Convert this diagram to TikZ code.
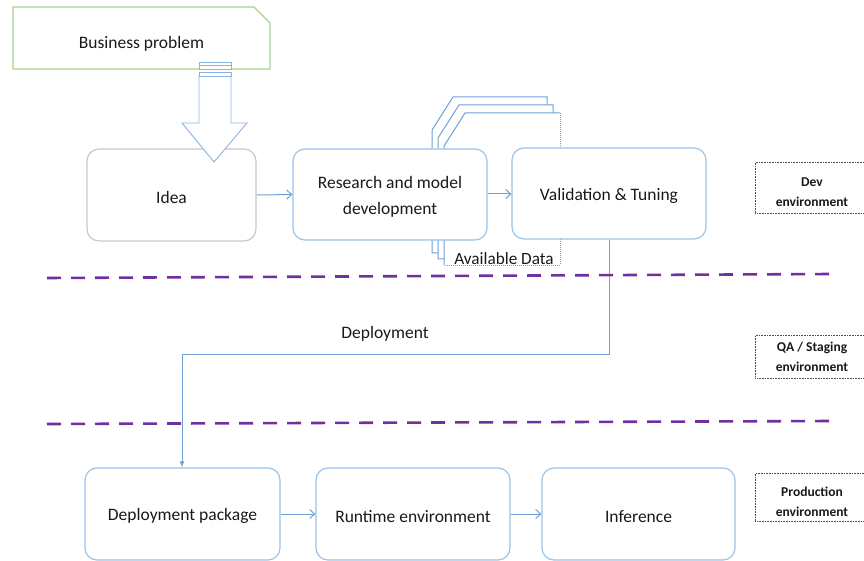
\documentclass[tikz,border=0pt]{standalone}
\usepackage{fontspec}
\setmainfont{Carlito}
\usetikzlibrary{arrows.meta,shapes.misc}
\definecolor{boxblue}{RGB}{157,195,230}
\definecolor{arrblue}{RGB}{110,160,215}
\definecolor{idegray}{RGB}{200,200,200}
\definecolor{biz}{RGB}{169,209,142}
\definecolor{purp}{RGB}{112,48,160}
\definecolor{txt}{RGB}{25,25,25}
\begin{document}
\begin{tikzpicture}[x=1pt,y=-1pt,
  stage/.style={draw=boxblue, line width=1.2pt, rounded corners=12pt, fill=white, text=txt, font=\fontsize{17.5}{26}\selectfont, align=center, text height=17pt},
  flow/.style={draw=arrblue, line width=1pt, -{Straight Barb[length=5pt,width=9pt]}},
  envbox/.style={draw=black!70, densely dotted, line width=0.6pt},
  envtext/.style={text=txt, font=\bfseries\fontsize{13.5}{20.5}\selectfont, align=center},
  sep/.style={draw=purp, line width=2.6pt, dash pattern=on 14pt off 10pt},
  page/.style={draw=arrblue, line width=1pt, fill=white}]
\useasboundingbox (0,0) rectangle (864,561);
% stacked data pages
\draw[page] (432,130) -- (453,97) -- (547,97) -- (547,253) -- (432,253) -- cycle;
\draw[page] (438,138) -- (459,105) -- (553,105) -- (553,259) -- (438,259) -- cycle;
\fill[white] (444,146) -- (465,113) -- (560,113) -- (560,265) -- (444,265) -- cycle;
\draw[arrblue, line width=1pt] (444,265) -- (444,146) -- (465,113) -- (560,113);
\draw[arrblue, densely dotted, line width=1pt] (560,113) -- (560,265) -- (444,265);
\node[text=txt, font=\fontsize{17.2}{18}\selectfont, anchor=center] (data) at (504,259) {Available Data};
% boxes
\node[draw=biz, line width=1.2pt, minimum width=257pt, minimum height=62pt, text=txt, font=\fontsize{17.5}{21}\selectfont, text height=23pt,
  chamfered rectangle, chamfered rectangle corners=north east, chamfered rectangle xsep=8pt, chamfered rectangle ysep=8pt] (biz) at (141.5,38) {Business problem};
\node[stage, draw=idegray, minimum width=169pt, minimum height=92pt] (idea) at (171.5,195) {Idea};
\node[stage, text height=43pt, minimum width=194pt, minimum height=91pt] (res) at (390,194.5) {Research and model\\development};
\node[stage, minimum width=194pt, minimum height=91pt] (val) at (609,193.5) {Validation \& Tuning};
\node[stage, minimum width=195pt, minimum height=92pt] (dep) at (182.5,514) {Deployment package};
\node[stage, minimum width=194pt, minimum height=92pt] (run) at (413,514) {Runtime environment};
\node[stage, minimum width=193pt, minimum height=92pt] (inf) at (638.5,514) {Inference};
% big hollow arrow
\draw[draw=arrblue!80, line width=0.9pt, fill=white] (199,76) -- (199,123) -- (182,123) -- (214,162) -- (247,123) -- (231,123) -- (231,76) -- cycle;
\draw[draw=arrblue!80, line width=0.9pt, fill=white] (199,62) rectangle (231,65);
\draw[draw=arrblue!80, line width=0.9pt, fill=white] (199,65) rectangle (231,69);
\draw[draw=arrblue!80, line width=0.9pt, fill=white] (199,72) rectangle (231,76);
% flow arrows
\draw[flow] (idea.east) -- (res.west);
\draw[flow] (res.east |- 0,194) -- (val.west |- 0,194);
\draw[flow] (dep.east) -- (run.west);
\draw[flow] (run.east) -- (inf.west);
\coordinate (d1) at (609,354);
\coordinate (d2) at (182,354);
\draw[flow, -{Latex[length=6pt,width=5pt]}] (val.south) -- (d1) -- (d2) -- (dep.north -| d2);
\node[text=txt, font=\fontsize{17.5}{21}\selectfont] (deplab) at (385,334) {Deployment};
% separators
\coordinate (s1a) at (47,278); \coordinate (s1b) at (832,274);
\coordinate (s2a) at (47,424); \coordinate (s2b) at (832,421);
\draw[sep] (s1a) -- (s1b);
\draw[sep] (s2a) -- (s2b);
% environment labels
\node[envbox, minimum width=115pt, minimum height=51pt, anchor=north west] (dev) at (755,162) {};
\node[envtext] (devt) at (812,192) {Dev\\environment};
\node[envbox, minimum width=115pt, minimum height=43pt, anchor=north west] (qa) at (755,335) {};
\node[envtext] (qat) at (812,357) {QA / Staging\\environment};
\node[envbox, minimum width=115pt, minimum height=48pt, anchor=north west] (prod) at (755,473) {};
\node[envtext] (prodt) at (812,502) {Production\\environment};
\end{tikzpicture}
\end{document}
